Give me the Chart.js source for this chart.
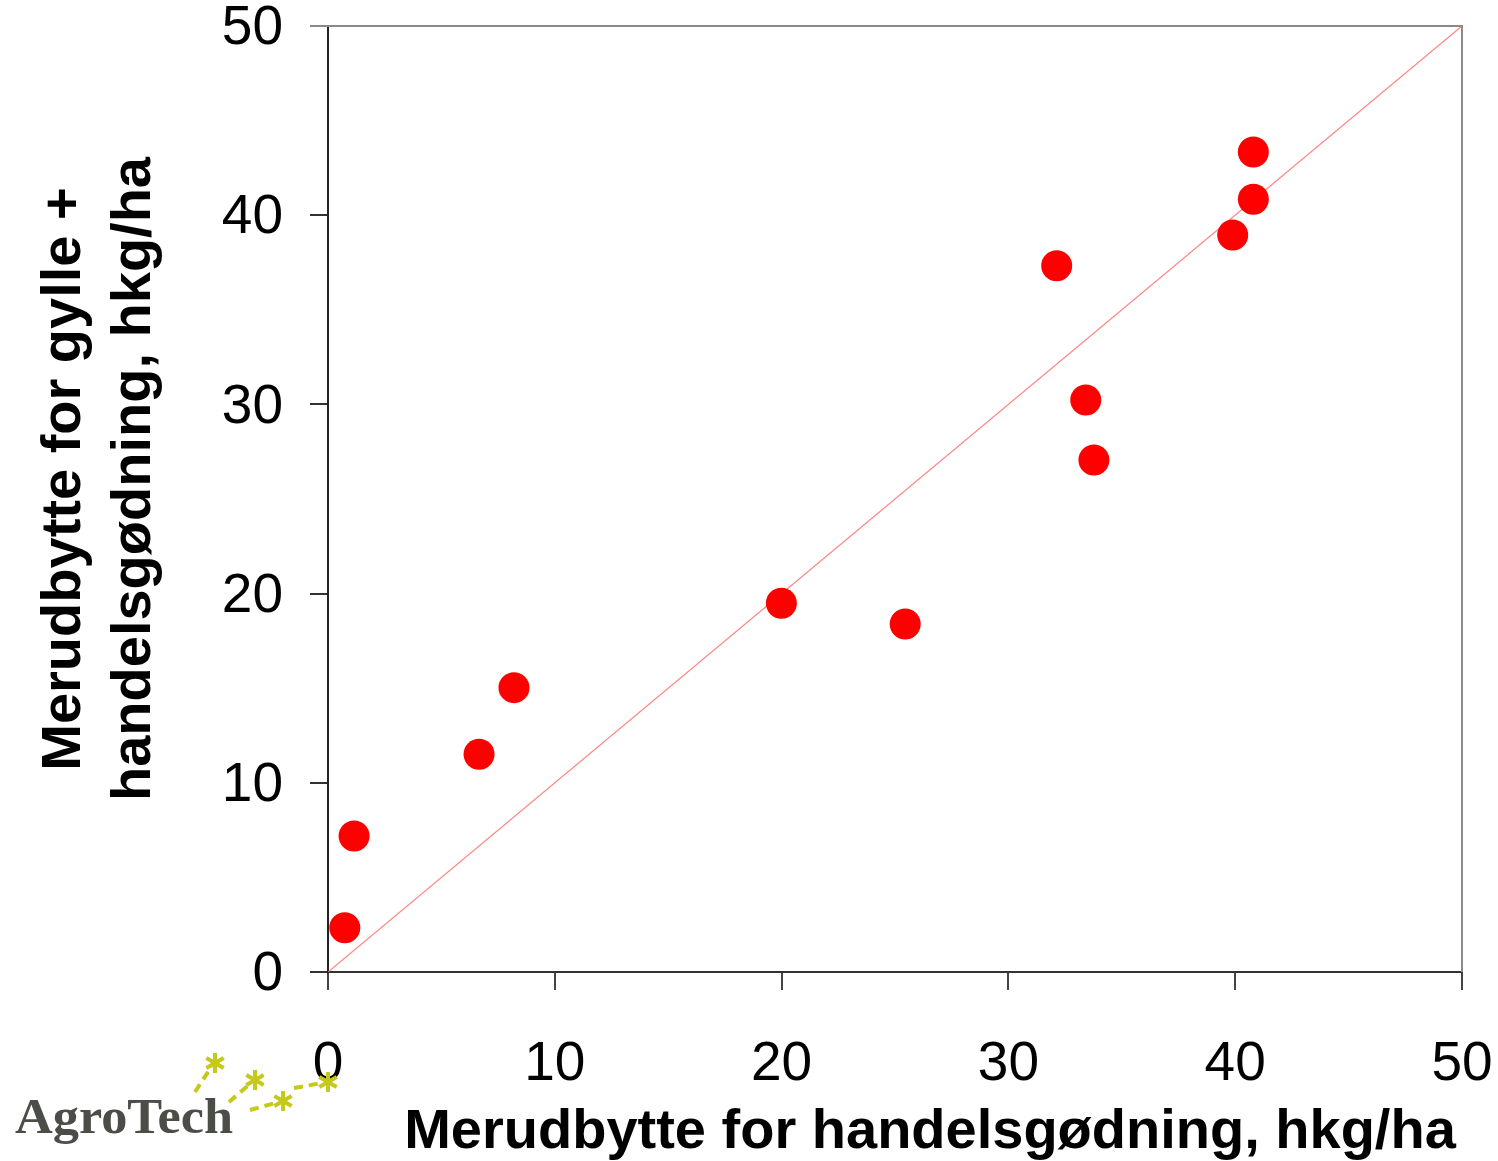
<!DOCTYPE html>
<html>
<head>
<meta charset="utf-8">
<script src="https://cdn.jsdelivr.net/npm/chart.js@4"></script>
<style>
html,body{margin:0;padding:0;background:#fff;}
#wrap{width:1498px;height:1161px;position:relative;}
</style>
</head>
<body>
<div id="wrap"><canvas id="c" width="1498" height="1161"></canvas></div>
<script>
const xValues = [0.74, 1.15, 6.66, 8.20, 19.99, 25.45, 32.13, 33.41, 33.77, 39.89, 40.80, 40.80];
const yValues = [2.34, 7.19, 11.51, 15.03, 19.49, 18.39, 37.33, 30.23, 27.06, 38.95, 40.84, 43.34];
const diagX = [0, 50];
const diagY = [0, 50];
const xTitle = "Merudbytte for handelsgødning, hkg/ha";
const yTitleLines = ["Merudbytte for gylle +", "handelsgødning, hkg/ha"];
const logoText = "AgroTech";

const points = xValues.map((x, i) => ({x: x, y: yValues[i]}));
const diag = diagX.map((x, i) => ({x: x, y: diagY[i]}));

const FONT = '"Liberation Sans", Arial, sans-serif';

const decor = {
  id: 'decor',
  beforeDatasetsDraw(chart) {
    const ctx = chart.ctx;
    const a = chart.chartArea;
    ctx.save();
    ctx.strokeStyle = '#8a8a8a';
    ctx.lineWidth = 2;
    ctx.beginPath();
    ctx.moveTo(a.left - 18, a.top);
    ctx.lineTo(a.right, a.top);
    ctx.lineTo(a.right, a.bottom);
    ctx.stroke();
    ctx.restore();
  },
  afterDraw(chart) {
    const ctx = chart.ctx;
    ctx.save();
    ctx.fillStyle = '#000';
    ctx.font = 'bold 56px ' + FONT;
    ctx.textAlign = 'center';
    ctx.textBaseline = 'alphabetic';
    ctx.fillText(xTitle, 930, 1148);
    const cy = 479;
    const bases = [80, 150];
    yTitleLines.forEach((t, i) => {
      ctx.save();
      ctx.translate(bases[i], cy);
      ctx.rotate(-Math.PI / 2);
      ctx.fillText(t, 0, 0);
      ctx.restore();
    });
    // logo
    const green = '#c4c91c';
    ctx.strokeStyle = green;
    ctx.lineWidth = 4;
    ctx.setLineDash([9, 6]);
    const segs = [[195, 1092, 212, 1066], [229, 1102, 251, 1083], [250, 1110, 279, 1102], [294, 1088, 322, 1083]];
    segs.forEach(s => { ctx.beginPath(); ctx.moveTo(s[0], s[1]); ctx.lineTo(s[2], s[3]); ctx.stroke(); });
    ctx.setLineDash([]);
    const stars = [[215, 1063], [255, 1080], [283, 1101], [328, 1082]];
    ctx.lineWidth = 4;
    stars.forEach(p => {
      for (let k = 0; k < 3; k++) {
        const ang = Math.PI / 2 + k * Math.PI / 3;
        const r = 10;
        ctx.beginPath();
        ctx.moveTo(p[0] - r * Math.cos(ang), p[1] - r * Math.sin(ang));
        ctx.lineTo(p[0] + r * Math.cos(ang), p[1] + r * Math.sin(ang));
        ctx.stroke();
      }
    });
    ctx.fillStyle = '#4b4e47';
    ctx.font = 'bold 48px "Liberation Serif", "DejaVu Serif", serif';
    ctx.textAlign = 'left';
    const w = ctx.measureText(logoText).width;
    ctx.save();
    ctx.translate(15, 1133);
    ctx.scale(218 / w, 1.05);
    ctx.fillText(logoText, 0, 0);
    ctx.restore();
    ctx.restore();
  }
};

new Chart(document.getElementById('c'), {
  type: 'scatter',
  data: {
    datasets: [
      {
        type: 'scatter',
        data: points,
        backgroundColor: '#ff0000',
        borderWidth: 0,
        pointRadius: 15.5,
        pointHoverRadius: 15.5,
        order: 1
      },
      {
        type: 'line',
        data: diag,
        borderColor: 'rgba(255,110,110,0.85)',
        borderWidth: 1.3,
        pointRadius: 0,
        fill: false,
        order: 2
      }
    ]
  },
  options: {
    responsive: false,
    devicePixelRatio: 1,
    animation: false,
    events: [],
    layout: { padding: { left: 0, top: 26, right: 36, bottom: 0 } },
    plugins: { legend: { display: false }, tooltip: { enabled: false }, title: { display: false } },
    scales: {
      x: {
        type: 'linear', min: 0, max: 50,
        ticks: { stepSize: 10, color: '#000', font: { family: FONT, size: 55 }, padding: 42, maxRotation: 0 },
        grid: { drawOnChartArea: false, drawTicks: true, tickLength: 18, color: '#444', lineWidth: 2 },
        border: { display: true, color: '#333', width: 2 },
        afterFit(s) { s.height = 189; s.paddingLeft = 0; s.paddingRight = 0; }
      },
      y: {
        type: 'linear', min: 0, max: 50,
        ticks: { stepSize: 10, color: '#000', font: { family: FONT, size: 55 }, padding: 27, labelOffset: 3 },
        grid: { drawOnChartArea: false, drawTicks: true, tickLength: 18, color: '#333', lineWidth: 2 },
        border: { display: true, color: '#222', width: 2 },
        afterFit(s) { s.width = 328; s.paddingTop = 0; s.paddingBottom = 0; }
      }
    }
  },
  plugins: [decor]
});
</script>
</body>
</html>
